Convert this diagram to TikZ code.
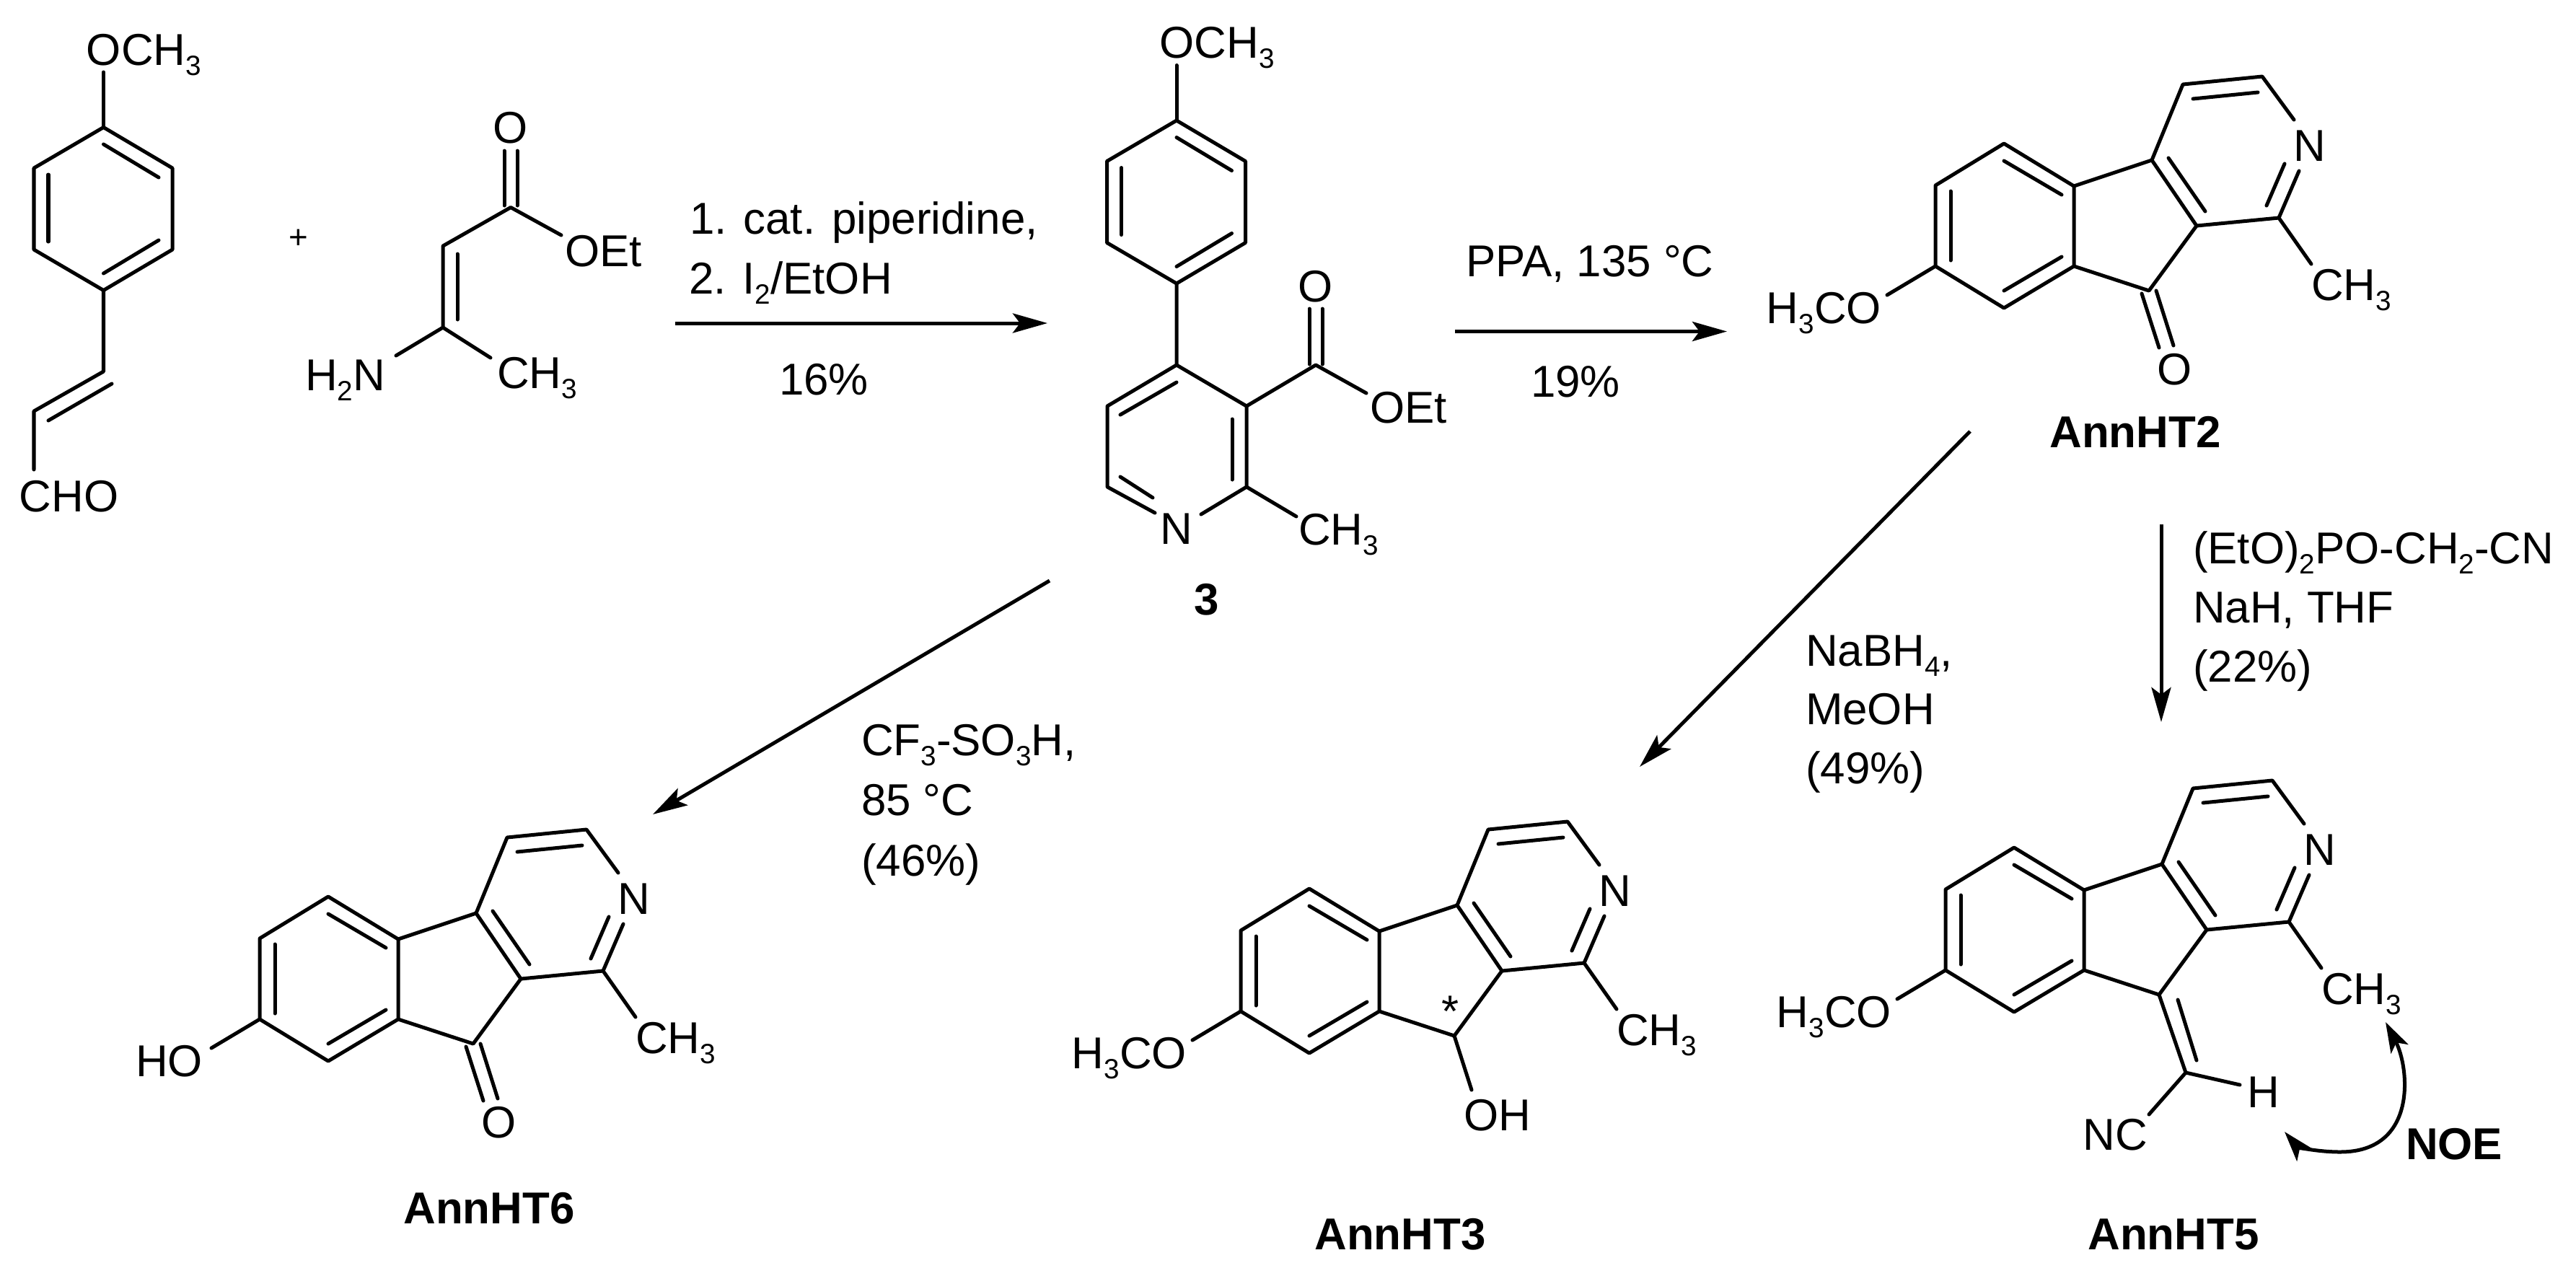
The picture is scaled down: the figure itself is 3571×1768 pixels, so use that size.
\documentclass[tikz,border=0pt]{standalone}
\usepackage{fontspec}
\setmainfont{Liberation Sans}
\usetikzlibrary{arrows.meta}
\newcommand{\sbs}[1]{\raisebox{-0.23em}{\fontsize{11}{12}\selectfont #1}}
\newcommand{\chemfont}{\fontsize{17.6}{20}\selectfont}
\tikzset{
  bond/.style={line width=0.05cm,line cap=round,line join=round,black},
  rxn/.style={line width=0.05cm,black,-{Stealth[length=0.48cm,width=0.27cm,inset=0.1cm]}},
  noe/.style={line width=0.05cm,black,{Stealth[length=0.42cm,width=0.27cm,inset=0.1cm]}-{Stealth[length=0.42cm,width=0.27cm,inset=0.1cm]}},
  txtw/.style={inner sep=0pt,outer sep=0pt,anchor=base west,font=\chemfont},
  txte/.style={inner sep=0pt,outer sep=0pt,anchor=base east,font=\chemfont},
  txtc/.style={inner sep=0pt,outer sep=0pt,anchor=base,font=\chemfont},
  title/.style={inner sep=0pt,outer sep=0pt,anchor=base,font=\chemfont\bfseries}
}
% the indeno-pyridine skeleton, placed by offset from AnnHT2
\newcommand{\tricycle}[3]{%
  \begin{scope}[shift={(#2,#3)}]
    \coordinate (#1a1) at (2778,199);
    \coordinate (#1a2) at (2683,257);
    \coordinate (#1a3) at (2683,369);
    \coordinate (#1a4) at (2778,427);
    \coordinate (#1a5) at (2875,369);
    \coordinate (#1a6) at (2875,258);
    \coordinate (#1b1) at (2983,222);
    \coordinate (#1b2) at (3045,313);
    \coordinate (#1c9) at (2979,403);
    \coordinate (#1p1) at (3026,117);
    \coordinate (#1p2) at (3136,106);
    \coordinate (#1p3) at (3159,302);
    \coordinate (#1nu) at (3180,166);
    \coordinate (#1nd) at (3187,237);
    \coordinate (#1me) at (3204,366);
    \coordinate (#1ox) at (2616,409);
    \draw[bond] (#1a1)--(#1a2)--(#1a3)--(#1a4)--(#1a5)--(#1a6)--cycle;
    \draw[bond] (#1a6)--(#1b1)--(#1b2)--(#1c9)--(#1a5);
    \draw[bond] (#1b1)--(#1p1)--(#1p2)--(#1nu);
    \draw[bond] (#1nd)--(#1p3)--(#1b2);
    \draw[bond] (#1p3)--(#1me);
    \draw[bond] (#1a3)--(#1ox);
    \draw[bond] (2778,223)--(2858,270);
    \draw[bond] (2704,265)--(2704,361);
    \draw[bond] (2778,403)--(2858,356);
    \draw[bond] (3006,219)--(3057,293);
    \draw[bond] (3040,137)--(3130,128);
    \draw[bond] (3167,227)--(3142,285);
    \node[txtc] (#1N) at (3202,223) {N};
    \node[txtw] (#1Me) at (3204,416) {CH\sbs{3}};
  \end{scope}}
% para-substituted benzene ring
\newcommand{\benzene}[3]{%
  \begin{scope}[shift={(#2,#3)}]
    \coordinate (#1r1) at (143.5,176.5);
    \coordinate (#1r2) at (239,233);
    \coordinate (#1r3) at (239,346);
    \coordinate (#1r4) at (143.5,402.5);
    \coordinate (#1r5) at (47,346);
    \coordinate (#1r6) at (47,233);
    \coordinate (#1top) at (143.5,100);
    \draw[bond] (#1r1)--(#1r2)--(#1r3)--(#1r4)--(#1r5)--(#1r6)--cycle;
    \draw[bond] (#1r1)--(#1top);
    \draw[bond] (143.5,200)--(220,246);
    \draw[bond] (67,242)--(67,335);
    \draw[bond] (143.5,379)--(220,333);
    \node[txtw] (#1och) at (120,90) {OCH\sbs{3}};
  \end{scope}}
\begin{document}
\begin{tikzpicture}[x=0.01cm,y=-0.01cm]
\fill[white] (0,0) rectangle (3571,1768);
\useasboundingbox (0,0) rectangle (3571,1768);

% 4-methoxycinnamaldehyde
\benzene{m}{0}{0}
\coordinate (v1) at (143.5,515);
\coordinate (v2) at (47,570);
\coordinate (v3) at (47,651);
\draw[bond] (mr4)--(v1)--(v2)--(v3);
\draw[bond] (155,532)--(67,583);
\node[txtw] (cho) at (27,709) {CHO};
\node[inner sep=0pt,font=\fontsize{13}{14}\selectfont] (plus) at (414,331) {+};

% enamino ester
\coordinate (e1) at (708,287.5);
\coordinate (e2) at (614,341);
\coordinate (e3) at (614,454);
\coordinate (e4) at (778,326);
\coordinate (e5) at (549,493);
\coordinate (e6) at (680,496);
\draw[bond] (e4)--(e1)--(e2)--(e3)--(e5);
\draw[bond] (e3)--(e6);
\draw[bond] (634,352)--(634,443);
\draw[bond] (699,209)--(699,285);
\draw[bond] (717,209)--(717,285);
\node[txtc] (eO) at (708,198) {O};
\node[txtw] (eOEt) at (783,369) {OEt};
\node[txte] (eNH) at (534,541) {H\sbs{2}N};
\node[txtw] (eMe) at (689,538) {CH\sbs{3}};

% arrow 1
\coordinate (s1) at (936,448);
\coordinate (t1) at (1452,448);
\draw[rxn] (s1)--(t1);
\node[txtw] (l1a) at (956,324) {1. cat. piperidine,};
\node[txtw] (l1b) at (955,407) {2. I\sbs{2}/EtOH};
\node[txtc] (l1c) at (1142,547) {16\%};

% compound 3
\benzene{k}{1487.5}{-9.5}
\coordinate (k1) at (1631,506);
\coordinate (k2) at (1728,563);
\coordinate (k3) at (1728,675);
\coordinate (k4) at (1665,713);
\coordinate (k5) at (1601,711);
\coordinate (k6) at (1535,675);
\coordinate (k7) at (1535,563);
\coordinate (k8) at (1824,506);
\coordinate (k9) at (1894,545);
\coordinate (k10) at (1797,716);
\draw[bond] (kr4)--(k1)--(k2)--(k3)--(k4);
\draw[bond] (k5)--(k6)--(k7)--(k1);
\draw[bond] (k2)--(k8)--(k9);
\draw[bond] (k3)--(k10);
\draw[bond] (1631,530)--(1553,575);
\draw[bond] (1708,581)--(1708,665);
\draw[bond] (1553,661)--(1598,690);
\draw[bond] (1815,428)--(1815,505);
\draw[bond] (1833,428)--(1833,505);
\node[txtc] (kN) at (1631,754) {N};
\node[txtc] (kO) at (1824,418) {O};
\node[txtw] (kOEt) at (1899,586) {OEt};
\node[txtw] (kMe) at (1800,755) {CH\sbs{3}};
\node[title] (k3lab) at (1673,852) {3};

% arrow 2
\coordinate (s2) at (2017,459.5);
\coordinate (t2) at (2394,459.5);
\draw[rxn] (s2)--(t2);
\node[txtw] (l2a) at (2032,383) {PPA, 135 °C};
\node[txtc] (l2b) at (2184,550) {19\%};

% AnnHT2
\tricycle{h}{0}{0}
\draw[bond] (2969,407)--(2993,482);
\draw[bond] (2989,403)--(3013,479);
\node[txtc] (hO) at (3015,533) {O};
\node[txte] (hMeO) at (2608,448) {H\sbs{3}CO};
\node[title] (hlab) at (2960,620) {AnnHT2};

% AnnHT6
\coordinate (s3) at (1455,805);
\coordinate (t3) at (905,1129);
\draw[rxn] (s3)--(t3);
\node[txtw] (l3a) at (1194,1047) {CF\sbs{3}-SO\sbs{3}H,};
\node[txtw] (l3b) at (1194,1130) {85 °C};
\node[txtw] (l3c) at (1194,1214) {(46\%)};
\tricycle{f}{-2323}{1044}
\begin{scope}[shift={(-2323,1044)}]
\draw[bond] (2969,407)--(2993,482);
\draw[bond] (2989,403)--(3013,479);
\node[txtc] (fO) at (3015,533) {O};
\node[txte] (fHO) at (2604,448) {HO};
\end{scope}
\node[title] (flab) at (678,1696) {AnnHT6};

% AnnHT3
\coordinate (s4) at (2731,598);
\coordinate (t4) at (2273,1063);
\draw[rxn] (s4)--(t4);
\node[txtw] (l4a) at (2503,923) {NaBH\sbs{4},};
\node[txtw] (l4b) at (2503,1004) {MeOH};
\node[txtw] (l4c) at (2503,1086) {(49\%)};
\tricycle{g}{-963}{1033}
\begin{scope}[shift={(-963,1033)}]
\node[txte] (gMeO) at (2608,448) {H\sbs{3}CO};
\end{scope}
\coordinate (gOH) at (2040,1511);
\draw[bond] (gc9)--(gOH);
\node[txtw] (gOHl) at (2029,1567) {OH};
\node[inner sep=0pt,font=\chemfont] (gstar) at (2011,1402) {*};
\node[title] (glab) at (1941,1732) {AnnHT3};

% AnnHT5
\coordinate (s5) at (2996,727);
\coordinate (t5) at (2996,1001);
\draw[rxn] (s5)--(t5);
\node[txtw] (l5a) at (3040,781) {(EtO)\sbs{2}PO-CH\sbs{2}-CN};
\node[txtw] (l5b) at (3040,863) {NaH, THF};
\node[txtw] (l5c) at (3040,945) {(22\%)};
\tricycle{j}{14}{976}
\begin{scope}[shift={(14,976)}]
\node[txte] (jMeO) at (2608,448) {H\sbs{3}CO};
\end{scope}
\coordinate (jx) at (3030,1487);
\coordinate (jH) at (3105,1504);
\coordinate (jN) at (2979,1545);
\draw[bond] (jc9)--(jx)--(jH);
\draw[bond] (jx)--(jN);
\draw[bond] (3019,1386)--(3045,1470);
\node[txtc] (jHl) at (3138,1535) {H};
\node[txte] (jNC) at (2977,1594) {NC};
\coordinate (n1) at (3307,1417);
\coordinate (n2) at (3167,1569);
\draw[noe] (n1) .. controls (3340,1480) and (3352,1597) .. (3244,1597) .. controls (3212,1597) and (3185,1590) .. (n2);
\node[title,anchor=base west] (noel) at (3335,1607) {NOE};
\node[title] (jlab) at (3013,1732) {AnnHT5};
\end{tikzpicture}
\end{document}
